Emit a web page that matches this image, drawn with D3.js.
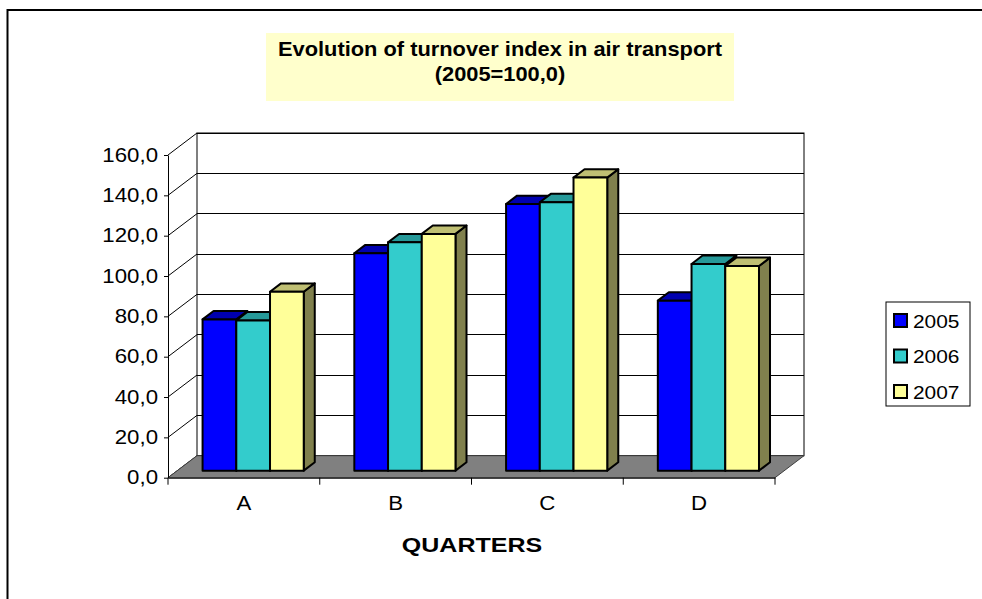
<!DOCTYPE html>
<html>
<head>
<meta charset="utf-8">
<script src="https://cdn.jsdelivr.net/npm/d3@7"></script>
<style>
  body { margin: 0; background: #fff; }
  svg { display: block; font-family: Arial, 'Liberation Sans', sans-serif; }
</style>
</head>
<body>
<script>
const quarters = ['A', 'B', 'C', 'D'];
const years = ['2005', '2006', '2007'];
const values2005 = [75.0, 107.8, 132.2, 84.3];
const values2006 = [74.5, 113.2, 133.1, 102.5];
const values2007 = [88.7, 117.4, 145.3, 101.5];
const yTicks = [0, 20, 40, 60, 80, 100, 120, 140, 160];
const titleLines = ['Evolution of turnover index in air transport', '(2005=100,0)'];
const axisTitle = 'QUARTERS';

const width = 982;
const height = 599;
const plot = { left: 168, right: 775, top: 155, bottom: 477.7 };
const depth = { dx: 29, dy: 22 };
const barFront = 0.32;
const barBack = 0.7;
const colors = [
  { face: '#0000ff', top: '#0000b0', side: '#000080' },
  { face: '#33cccc', top: '#269999', side: '#1a6666' },
  { face: '#ffff99', top: '#bfbf73', side: '#80804d' },
];

const series = [values2005, values2006, values2007];
const data = [];
quarters.forEach((q, qi) => {
  years.forEach((yr, si) => {
    data.push({ quarter: q, year: yr, index: si, value: series[si][qi] });
  });
});

// the source chart has its type a bit wider than plain Arial
function stretch(sel, k) {
  sel.each(function () {
    const len = this.getComputedTextLength();
    d3.select(this)
      .attr('textLength', len * k)
      .attr('lengthAdjust', 'spacingAndGlyphs');
  });
}

const svg = d3
  .select('body')
  .append('svg')
  .attr('width', width)
  .attr('height', height);

// outer frame
svg
  .append('rect')
  .attr('x', 7.5)
  .attr('y', 10)
  .attr('width', 990)
  .attr('height', 600)
  .attr('fill', 'none')
  .attr('stroke', '#000')
  .attr('stroke-width', 2);

// title
svg
  .append('rect')
  .attr('x', 266)
  .attr('y', 33)
  .attr('width', 468)
  .attr('height', 68)
  .attr('fill', '#ffffcc');

svg
  .selectAll('.title')
  .data(titleLines)
  .enter()
  .append('text')
  .attr('class', 'title')
  .attr('x', 500)
  .attr('y', (d, i) => 56 + i * 24.5)
  .attr('text-anchor', 'middle')
  .attr('font-weight', 'bold')
  .attr('font-size', 21)
  .text(d => d)
  .call(stretch, 1.04);

const x0 = d3.scaleBand(quarters, [plot.left, plot.right]);
const x1 = d3.scaleBand(years, [0, x0.bandwidth()]).paddingOuter(0.75);
const y = d3.scaleLinear([0, 160], [plot.bottom, plot.top]);

const back = { left: plot.left + depth.dx, right: plot.right + depth.dx };

// walls
svg
  .append('rect')
  .attr('x', back.left)
  .attr('y', y(160) - depth.dy)
  .attr('width', back.right - back.left)
  .attr('height', y(0) - y(160))
  .attr('fill', '#fff')
  .attr('stroke', '#000');

svg
  .append('g')
  .selectAll('line')
  .data(yTicks)
  .enter()
  .append('line')
  .attr('x1', back.left)
  .attr('x2', back.right)
  .attr('y1', d => y(d) - depth.dy)
  .attr('y2', d => y(d) - depth.dy)
  .attr('stroke', '#000')
  .attr('shape-rendering', 'crispEdges');

svg
  .append('g')
  .selectAll('line')
  .data(yTicks)
  .enter()
  .append('line')
  .attr('x1', plot.left)
  .attr('x2', back.left)
  .attr('y1', d => y(d))
  .attr('y2', d => y(d) - depth.dy)
  .attr('stroke', '#000');

// floor
svg
  .append('polygon')
  .attr(
    'points',
    [
      [plot.left, y(0)],
      [plot.right, y(0)],
      [back.right, y(0) - depth.dy],
      [back.left, y(0) - depth.dy],
    ].join(' ')
  )
  .attr('fill', '#808080')
  .attr('stroke', '#404040');

// bars
const ox = (barBack - barFront) * depth.dx;
const oy = (barBack - barFront) * depth.dy;
const bx = d => x0(d.quarter) + x1(d.year) + barFront * depth.dx;
const byTop = d => y(d.value) - barFront * depth.dy;
const byBot = () => y(0) - barFront * depth.dy;
const bw = x1.bandwidth();

const bars = svg
  .append('g')
  .selectAll('.bar')
  .data(data)
  .enter()
  .append('g')
  .attr('class', 'bar')
  .attr('stroke', '#000')
  .attr('stroke-width', 2)
  .attr('stroke-linejoin', 'round');

bars
  .append('polygon')
  .attr('points', d =>
    [
      [bx(d) + bw, byTop(d)],
      [bx(d) + bw + ox, byTop(d) - oy],
      [bx(d) + bw + ox, byBot() - oy],
      [bx(d) + bw, byBot()],
    ].join(' ')
  )
  .attr('fill', d => colors[d.index].side);

bars
  .append('polygon')
  .attr('points', d =>
    [
      [bx(d), byTop(d)],
      [bx(d) + ox, byTop(d) - oy],
      [bx(d) + bw + ox, byTop(d) - oy],
      [bx(d) + bw, byTop(d)],
    ].join(' ')
  )
  .attr('fill', d => colors[d.index].top);

bars
  .append('rect')
  .attr('x', d => bx(d))
  .attr('y', d => byTop(d))
  .attr('width', bw)
  .attr('height', d => byBot() - byTop(d))
  .attr('fill', d => colors[d.index].face);

// axes
const fmt = v => d3.format('.1f')(v).replace('.', ',');
const yAxis = d3
  .axisLeft(y)
  .tickValues(yTicks)
  .tickFormat(fmt)
  .tickSize(4)
  .tickSizeOuter(0)
  .tickPadding(6);

svg
  .append('g')
  .attr('transform', `translate(${plot.left}, 0)`)
  .call(yAxis)
  .call(g => g.selectAll('path, line').attr('stroke', '#000'))
  .call(g =>
    g
      .selectAll('text')
      .attr('font-size', 19.5)
      .attr('font-family', 'Arial, Liberation Sans, sans-serif')
      .attr('fill', '#000')
      .call(stretch, 1.14)
  );

const xAxis = d3.axisBottom(x0).tickSize(0).tickPadding(18);

svg
  .append('g')
  .attr('transform', `translate(0, ${y(0)})`)
  .call(xAxis)
  .call(g => g.select('.domain').attr('stroke', '#000'))
  .call(g =>
    g
      .selectAll('text')
      .attr('font-size', 19.5)
      .attr('font-family', 'Arial, Liberation Sans, sans-serif')
      .attr('fill', '#000')
      .call(stretch, 1.14)
  );

svg
  .append('g')
  .selectAll('line')
  .data(quarters.map(q => x0(q)).concat([plot.right]))
  .enter()
  .append('line')
  .attr('x1', d => d)
  .attr('x2', d => d)
  .attr('y1', y(0))
  .attr('y2', y(0) + 7)
  .attr('stroke', '#000');

svg
  .append('text')
  .attr('x', 472)
  .attr('y', 552)
  .attr('text-anchor', 'middle')
  .attr('font-weight', 'bold')
  .attr('font-size', 21)
  .text(axisTitle)
  .call(stretch, 1.19);

// legend
const legend = svg.append('g').attr('transform', 'translate(886, 302)');
legend
  .append('rect')
  .attr('width', 84)
  .attr('height', 104)
  .attr('fill', '#fff')
  .attr('stroke', '#000');

const items = legend
  .selectAll('.legend-item')
  .data(years)
  .enter()
  .append('g')
  .attr('class', 'legend-item')
  .attr('transform', (d, i) => `translate(8, ${12 + i * 35.5})`);

items
  .append('rect')
  .attr('width', 13)
  .attr('height', 13)
  .attr('fill', (d, i) => colors[i].face)
  .attr('stroke', '#000')
  .attr('stroke-width', 2);

items
  .append('text')
  .attr('x', 19)
  .attr('y', 13.5)
  .attr('font-size', 19)
  .text(d => d)
  .call(stretch, 1.1);
</script>
</body>
</html>
